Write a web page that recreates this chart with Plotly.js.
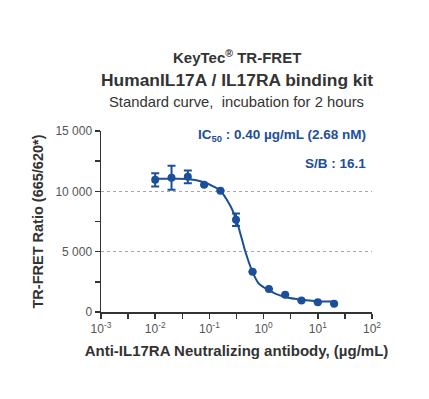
<!DOCTYPE html>
<html>
<head>
<meta charset="utf-8">
<script src="https://cdn.plot.ly/plotly-3.0.1.min.js"></script>
<style>html,body{margin:0;padding:0;background:#fff;}#chart{width:429px;height:399px;}</style>
</head>
<body>
<div id="chart"></div>
<script>
// Measured points (µg/mL vs TR-FRET ratio)
const concentrations = [0.01, 0.02, 0.04, 0.08, 0.16, 0.31, 0.625, 1.25, 2.5, 5, 10, 20];
const ratioValues    = [10950, 11130, 11200, 10550, 10050, 7650, 3330, 1900, 1430, 960, 800, 690];
const ratioErrors    = [550, 1000, 520, 0, 0, 520, 0, 0, 0, 0, 0, 0];

// Fitted curve
const curveX = [0.01, 0.02, 0.04, 0.08, 0.12, 0.16, 0.2, 0.25, 0.31, 0.4, 0.46, 0.62, 0.8, 1.0, 1.25, 1.6, 2.5, 5, 10, 20];
const curveY = [11050, 11050, 11020, 10750, 10400, 10050, 9450, 8700, 7700, 6000, 5010, 3350, 2400, 2050, 1800, 1550, 1250, 1020, 900, 860];

// Tick labels
const xTickVals = [0.001, 0.01, 0.1, 1, 10, 100];
const xTickText = ['10<sup>-3</sup>', '10<sup>-2</sup>', '10<sup>-1</sup>', '10<sup>0</sup>', '10<sup>1</sup>', '10<sup>2</sup>'];
const xMinorVals = [0.00316, 0.0316, 0.316, 3.16, 31.6];
const yTickVals = [0, 5000, 10000, 15000];
const yTickText = ['0', '5 000', '10 000', '15 000'];
const yMinorVals = [2500, 7500, 12500];
const yGridVals = [5000, 10000];

const blue = '#1c4f9a';
const axisColor = '#333333';
const font = 'Liberation Sans, Arial, sans-serif';

const traces = [
  {
    x: curveX, y: curveY, type: 'scatter', mode: 'lines',
    line: {color: blue, width: 2, shape: 'spline', smoothing: 1},
    hoverinfo: 'skip', showlegend: false
  },
  {
    x: concentrations, y: ratioValues, type: 'scatter', mode: 'markers',
    marker: {color: blue, size: 8},
    error_y: {type: 'data', array: ratioErrors, color: blue, thickness: 2, width: 4},
    showlegend: false
  },
  {
    x: [], y: [], yaxis: 'y2', type: 'scatter', showlegend: false
  }
];

const layout = {
  width: 429, height: 399,
  margin: {l: 101, r: 57, t: 131, b: 87},
  paper_bgcolor: '#fff', plot_bgcolor: 'rgba(0,0,0,0)',
  font: {family: font, color: '#444', size: 12},
  xaxis: {
    type: 'log', range: [-3, 2],
    tickvals: xTickVals, ticktext: xTickText,
    ticks: 'outside', ticklen: 5, tickwidth: 1.5, tickcolor: axisColor,
    minor: {tickvals: xMinorVals, ticks: 'outside', ticklen: 5, tickwidth: 1.5, tickcolor: axisColor, showgrid: false},
    showline: true, linecolor: axisColor, linewidth: 1.5,
    showgrid: false, zeroline: false,
    tickfont: {size: 12, color: '#555'},
    title: {text: 'Anti-IL17RA Neutralizing antibody, (µg/mL)', font: {size: 15, color: '#333', weight: 'bold'}, standoff: 10}
  },
  yaxis: {
    range: [0, 15000],
    tickvals: yTickVals, ticktext: yTickText,
    ticks: 'outside', ticklen: 5, tickwidth: 1.5, tickcolor: axisColor,
    minor: {tickvals: yMinorVals, ticks: 'outside', ticklen: 5, tickwidth: 1.5, tickcolor: axisColor, showgrid: false},
    showline: true, linecolor: axisColor, linewidth: 1.5,
    showgrid: false, zeroline: false,
    tickfont: {size: 12, color: '#555'},
    title: {text: 'TR-FRET Ratio (665/620*)', font: {size: 14.5, color: '#333', weight: 'bold'}, standoff: 8}
  },
  yaxis2: {
    overlaying: 'y', range: [0, 15000],
    tickvals: yGridVals, showticklabels: false, ticks: '',
    showgrid: true, gridcolor: '#a8a8a8', griddash: 'dot', gridwidth: 1,
    zeroline: false, showline: false
  },
  annotations: [
    {xref: 'paper', yref: 'paper', x: 0.5, y: 1, yshift: 75, text: 'KeyTec<sup>®</sup> TR-FRET',
     showarrow: false, font: {size: 15, color: '#333', weight: 'bold'}, xanchor: 'center', yanchor: 'middle'},
    {xref: 'paper', yref: 'paper', x: 0.5, y: 1, yshift: 51, text: 'HumanIL17A / IL17RA binding kit',
     showarrow: false, font: {size: 17.4, color: '#333', weight: 'bold'}, xanchor: 'center', yanchor: 'middle'},
    {xref: 'paper', yref: 'paper', x: 0.5, y: 1, yshift: 29.5, text: 'Standard curve,  incubation for 2 hours',
     showarrow: false, font: {size: 14.8, color: '#333'}, xanchor: 'center', yanchor: 'middle'},
    {xref: 'paper', yref: 'paper', x: 0.985, y: 1, yshift: -4, text: 'IC<sub>50</sub> : 0.40 µg/mL (2.68 nM)',
     showarrow: false, font: {size: 13.5, color: blue, weight: 'bold'}, xanchor: 'right', yanchor: 'middle'},
    {xref: 'paper', yref: 'paper', x: 0.985, y: 1, yshift: -32, text: 'S/B : 16.1',
     showarrow: false, font: {size: 13.5, color: blue, weight: 'bold'}, xanchor: 'right', yanchor: 'middle'}
  ]
};

Plotly.newPlot('chart', traces, layout, {displayModeBar: false, staticPlot: true});
</script>
</body>
</html>
